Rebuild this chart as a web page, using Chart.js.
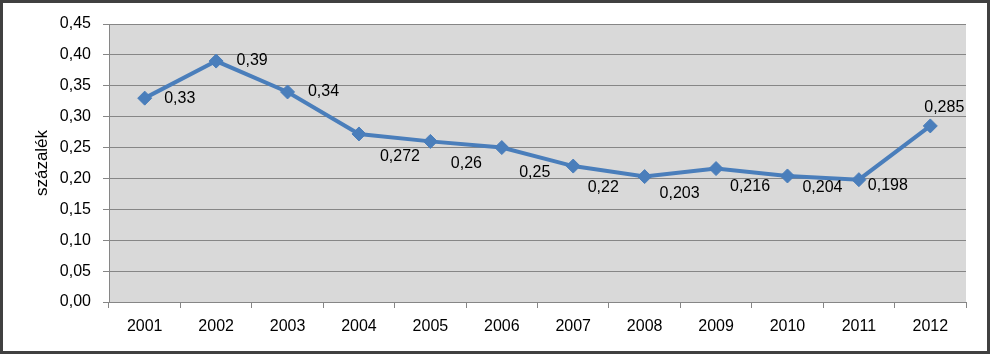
<!DOCTYPE html>
<html>
<head>
<meta charset="utf-8">
<script src="https://cdn.jsdelivr.net/npm/chart.js@4/dist/chart.umd.min.js"></script>
<style>
  html, body { margin: 0; padding: 0; background: #ffffff; }
  canvas { display: block; }
</style>
</head>
<body>
<canvas id="c" width="990" height="354"></canvas>
<script>
const categories = ['2001','2002','2003','2004','2005','2006','2007','2008','2009','2010','2011','2012'];
const values = [0.33, 0.39, 0.34, 0.272, 0.26, 0.25, 0.22, 0.203, 0.216, 0.204, 0.198, 0.285];
const yTickMin = 0;
const yTickMax = 0.45;
const yTickStep = 0.05;
const yTitle = 'százalék';

// label placement offsets (pixels, relative to the point) – styling only
const labelOffsets = [[35,0],[36,0],[36,0],[41,23],[36,22],[33,25],[30,22],[35,17],[34,18],[35,12],[29,6],[14,-18]];

const FONT = "'Liberation Sans', Arial, sans-serif";
const fmt = v => String(v).replace('.', ',');

const bgPlugin = {
  id: 'bg',
  beforeDraw(chart) {
    const {ctx, chartArea: a} = chart;
    ctx.save();
    ctx.fillStyle = '#ffffff';
    ctx.fillRect(0, 0, chart.width, chart.height);
    ctx.fillStyle = '#d9d9d9';
    ctx.fillRect(a.left, a.top, a.right - a.left, a.bottom - a.top);
    ctx.restore();
  },
  afterDraw(chart) {
    const ctx = chart.ctx;
    ctx.save();
    ctx.strokeStyle = '#404040';
    ctx.lineWidth = 3;
    ctx.strokeRect(1.5, 1.5, chart.width - 3, chart.height - 3);
    ctx.restore();
  }
};

const labelPlugin = {
  id: 'vlabels',
  afterDatasetsDraw(chart) {
    const ctx = chart.ctx;
    const meta = chart.getDatasetMeta(0);
    ctx.save();
    ctx.font = '16px ' + FONT;
    ctx.fillStyle = '#000000';
    ctx.textAlign = 'center';
    ctx.textBaseline = 'middle';
    meta.data.forEach((pt, i) => {
      const o = labelOffsets[i];
      ctx.fillText(fmt(values[i]), pt.x + o[0], pt.y + o[1]);
    });
    ctx.restore();
  }
};

new Chart(document.getElementById('c'), {
  type: 'line',
  data: {
    labels: categories,
    datasets: [{
      data: values,
      borderColor: '#4a7ebb',
      backgroundColor: '#4a7ebb',
      borderWidth: 4,
      pointStyle: 'rectRot',
      pointRadius: 7,
      pointBorderWidth: 1,
      pointBackgroundColor: '#4a7ebb',
      pointBorderColor: '#4a7ebb',
      tension: 0,
      fill: false
    }]
  },
  options: {
    responsive: false,
    animation: false,
    layout: { padding: { left: 0, right: 24, top: 24, bottom: 0 } },
    plugins: { legend: { display: false }, tooltip: { enabled: false } },
    scales: {
      x: {
        offset: true,
        grid: { offset: true, drawOnChartArea: false, drawTicks: true, tickLength: 6, color: '#868686' },
        border: { display: true, color: '#868686', width: 1 },
        ticks: { color: '#000000', font: { family: FONT, size: 16 }, padding: 9, maxRotation: 0, autoSkip: false },
        afterFit(s) { s.height = 52; }
      },
      y: {
        min: yTickMin,
        max: yTickMax,
        grid: { color: '#868686', tickLength: 6, drawTicks: true },
        border: { display: true, color: '#868686', width: 1 },
        ticks: {
          stepSize: yTickStep,
          color: '#000000',
          font: { family: FONT, size: 16 },
          padding: 12,
          callback: v => v.toFixed(2).replace('.', ',')
        },
        title: {
          display: true,
          text: yTitle,
          color: '#000000',
          font: { family: FONT, size: 17 },
          padding: { top: 32, bottom: 0 }
        },
        afterFit(s) { s.width = 109; }
      }
    }
  },
  plugins: [bgPlugin, labelPlugin]
});
</script>
</body>
</html>
